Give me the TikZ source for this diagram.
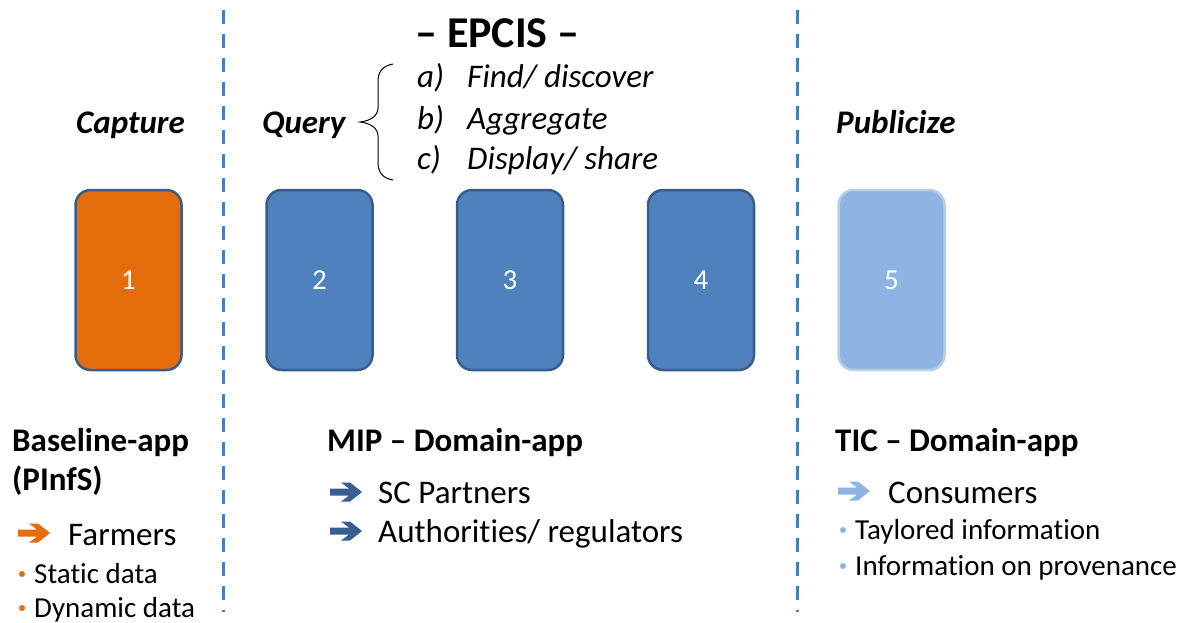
\documentclass[tikz,border=0pt]{standalone}
\usepackage{fontspec}
\setmainfont{Carlito}[Ligatures=NoCommon]
\definecolor{orangeF}{HTML}{E46C0A}
\definecolor{blueF}{HTML}{4F81BD}
\definecolor{blueD}{HTML}{385D8A}
\definecolor{lightF}{HTML}{8EB4E3}
\definecolor{lightD}{HTML}{B9CDE5}
\definecolor{sepline}{HTML}{4A7EBB}
\definecolor{arrowD}{HTML}{376092}
\newcommand{\szHead}{\fontsize{33}{40}\selectfont}
\newcommand{\szItem}{\fontsize{29}{34}\selectfont}
\newcommand{\szNum}{\fontsize{29}{34}\selectfont}
\newcommand{\szTitle}{\fontsize{44}{50}\selectfont}
\begin{document}
\begin{tikzpicture}[x=1pt,y=-1pt,
  stagebox/.style={rounded corners=15pt, minimum width=106pt, minimum height=180pt,
    line width=2.5pt, text=white, font=\szNum, inner sep=0pt},
  sepdash/.style={sepline, line width=3pt, dash pattern=on 14pt off 10pt},
  label/.style={anchor=base west, inner sep=0pt, text=black},
  phase/.style={label, font=\szHead\bfseries\itshape},
  apphead/.style={label, font=\szHead\bfseries},
  target/.style={label, font=\szHead},
  detail/.style={label, font=\szItem},
  step item/.style={label, font=\szHead\itshape},
  bigarrow/.pic={\fill[#1] (0,-3.5) -- (19,-3.5) -- (11,-9.5) -- (20,-9.5) -- (32,0)
      -- (20,9.5) -- (11,9.5) -- (19,3.5) -- (0,3.5) -- cycle;},
  dot/.style={circle, fill=#1, inner sep=0pt, minimum size=6pt}
]
\useasboundingbox (0,0) rectangle (1190,623);

% column separators
\coordinate (sepA1) at (223,10);
\coordinate (sepA2) at (223,612);
\coordinate (sepB1) at (797,10);
\coordinate (sepB2) at (797,612);
\draw[sepdash] (sepA1) -- (sepA2);
\draw[sepdash] (sepB1) -- (sepB2);

% process steps
\node[stagebox, fill=orangeF, draw=blueD] (s1) at (128.5,280) {1};
\node[stagebox, fill=blueF, draw=blueD] (s2) at (319.5,280) {2};
\node[stagebox, fill=blueF, draw=blueD] (s3) at (510,280) {3};
\node[stagebox, fill=blueF, draw=blueD] (s4) at (701,280) {4};
\node[stagebox, fill=lightF, draw=lightD] (s5) at (891.5,280) {5};

% phase labels
\node[phase] (capture) at (76,133) {Capture};
\node[phase] (query) at (262,133) {Query};
\node[phase] (publicize) at (836,133) {Publicize};

% EPCIS block
\node[label, font=\szTitle\bfseries] (epcis) at (415,48) {– EPCIS –};
\node[step item] (qa) at (417,88) {a)};
\node[step item] (qb) at (417,129) {b)};
\node[step item] (qc) at (417,169) {c)};
\node[step item] (qa2) at (467,88) {Find/ discover};
\node[step item] (qb2) at (467,129) {Aggregate};
\node[step item] (qc2) at (467,169) {Display/ share};
\draw[line width=1pt] (393,64) .. controls (382,66) and (378,72) .. (378,82)
  -- (378,108) .. controls (378,116) and (370,121) .. (360,122)
  .. controls (370,123) and (378,128) .. (378,136)
  -- (378,162) .. controls (378,172) and (382,178) .. (393,180);

% left column
\node[apphead] (base1) at (12,451) {Baseline-app};
\node[apphead] (base2) at (12,490) {(PInfS)};
\pic at (18,533) {bigarrow=orangeF};
\node[target] (farmers) at (68,545) {Farmers};
\node[dot=orangeF] (d1) at (22,574) {};
\node[detail] (static) at (34,583) {Static data};
\node[dot=orangeF] (d2) at (22,608) {};
\node[detail] (dynamic) at (34,617) {Dynamic data};

% middle column
\node[apphead] (mip) at (327,451) {MIP – Domain-app};
\pic at (330,492) {bigarrow=arrowD};
\node[target] (scp) at (378,503) {SC Partners};
\pic at (330,531) {bigarrow=arrowD};
\node[target] (auth) at (378,542) {Authorities/ regulators};

% right column
\node[apphead] (tic) at (835,451) {TIC – Domain-app};
\pic at (838,491) {bigarrow=lightF};
\node[target] (cons) at (888,503) {Consumers};
\node[dot=lightF] (d3) at (843,530) {};
\node[detail] (tay) at (855,539) {Taylored information};
\node[dot=lightF] (d4) at (843,566) {};
\node[detail] (prov) at (855,575) {Information on provenance};
\end{tikzpicture}
\end{document}
